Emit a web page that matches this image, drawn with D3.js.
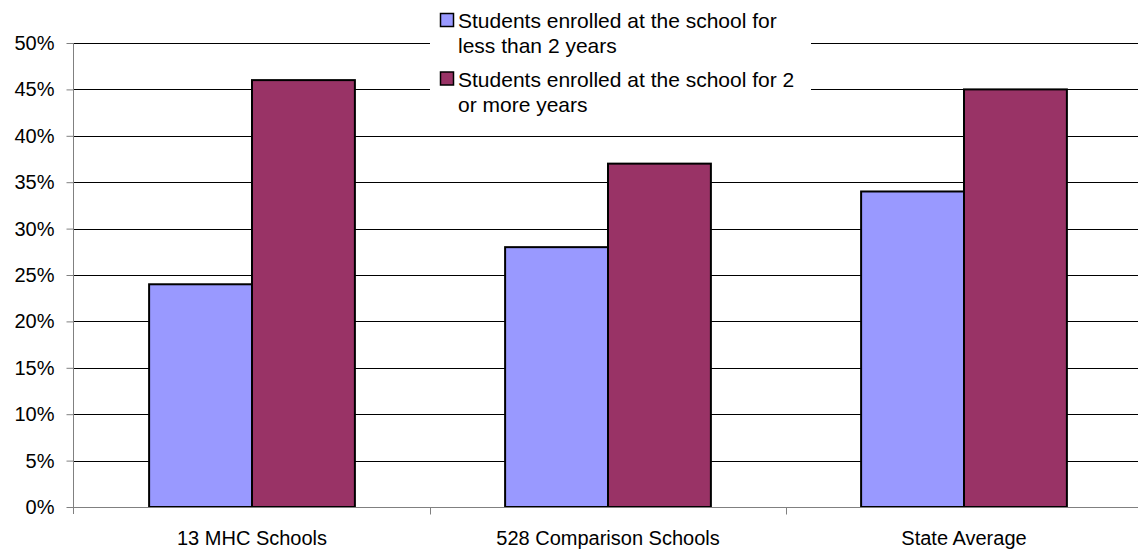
<!DOCTYPE html>
<html><head><meta charset="utf-8">
<script src="https://cdn.jsdelivr.net/npm/d3@7"></script>
<style>body{margin:0;background:#fff}svg{display:block}</style>
</head><body>
<svg id="c" width="1138" height="550"></svg>
<script>
const categories = ["13 MHC Schools", "528 Comparison Schools", "State Average"];
const seriesNames = ["Students enrolled at the school for less than 2 years", "Students enrolled at the school for 2 or more years"];
const lessThan2 = [24, 28, 34];
const twoOrMore = [46, 37, 45];
const yTicks = [0, 5, 10, 15, 20, 25, 30, 35, 40, 45, 50];
const colors = ["#9999ff", "#993366"];
const legendLines = [["Students enrolled at the school for", "less than 2 years"], ["Students enrolled at the school for 2", "or more years"]];

const svg = d3.select("#c");
const font = "Arial, 'Liberation Sans', sans-serif";
const L = 74, R = 1142, T = 43, B = 507;
const x = d3.scaleBand().domain(categories).range([L, R]).paddingInner(0).paddingOuter(0);
const y = d3.scaleLinear().domain([0, 50]).range([B, T]);
const x1 = d3.scaleBand().domain([0, 1]).range([0, x.bandwidth()]).paddingOuter(0.73).paddingInner(0);

// gridlines
svg.append("g").selectAll("line").data(yTicks.filter(d => d > 0)).join("line")
  .attr("x1", L).attr("x2", R).attr("y1", d => Math.round(y(d)) + 0.5).attr("y2", d => Math.round(y(d)) + 0.5)
  .attr("stroke", "#000").attr("stroke-width", 1);

// bars
const data = [lessThan2, twoOrMore];
const g = svg.append("g");
categories.forEach((c, i) => {
  data.forEach((s, j) => {
    g.append("rect")
      .attr("x", x(c) + x1(j)).attr("width", x1.bandwidth())
      .attr("y", y(s[i])).attr("height", B - y(s[i]))
      .attr("fill", colors[j]).attr("stroke", "#000").attr("stroke-width", 2);
  });
});

// y axis
const yAxis = d3.axisLeft(y).tickValues(yTicks).tickFormat(d => d + "%").tickSize(7).tickPadding(12);
const ya = svg.append("g").attr("transform", `translate(${L - 0.5},0)`).call(yAxis);
ya.select(".domain").attr("stroke", "#808080").attr("d", `M0,${T}V${B + 7}`);
ya.selectAll(".tick line").attr("stroke", "#808080");
ya.selectAll("text").attr("font-family", font).attr("font-size", 20).attr("fill", "#000");

// x axis
const xa = svg.append("g").attr("transform", `translate(0,${B + 0.5})`);
xa.append("line").attr("x1", L).attr("x2", R).attr("stroke", "#808080");
xa.selectAll(".t").data(categories.slice(1)).join("line")
  .attr("x1", d => Math.round(x(d)) + 0.5).attr("x2", d => Math.round(x(d)) + 0.5)
  .attr("y1", 0).attr("y2", 7).attr("stroke", "#808080");
xa.selectAll("text").data(categories).join("text")
  .attr("x", d => x(d) + x.bandwidth() / 2).attr("y", 37)
  .attr("text-anchor", "middle").attr("font-family", font).attr("font-size", 20).text(d => d);

// legend
const lg = svg.append("g");
lg.append("rect").attr("x", 430).attr("y", 0).attr("width", 381).attr("height", 118).attr("fill", "#fff");
legendLines.forEach((lines, j) => {
  const base = 28 + j * 58.5;
  lg.append("rect").attr("x", 440.5).attr("y", base - 14.5).attr("width", 13).attr("height", 13)
    .attr("fill", colors[j]).attr("stroke", "#000").attr("stroke-width", 1.5);
  lines.forEach((t, k) => {
    lg.append("text").attr("x", 458).attr("y", base + k * 25)
      .attr("font-family", font).attr("font-size", 21).text(t);
  });
});
</script>
</body></html>
